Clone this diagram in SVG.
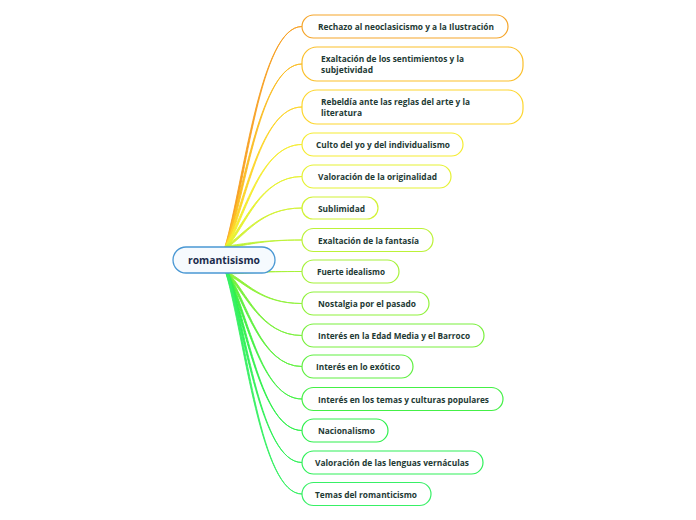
<svg xmlns="http://www.w3.org/2000/svg" width="696" height="520" viewBox="0 0 696 520">
<style>
.n{fill:#ffffff;stroke-width:1.2}
.t{font-family:"Open Sans","DejaVu Sans",sans-serif;font-weight:700;font-size:8.4px;fill:#1e3a34}
.c{stroke-width:0.9;stroke-linejoin:round}
.root{fill:#f6fafe;stroke:#4a98d4;stroke-width:1.3}
.rt{font-family:"Open Sans","DejaVu Sans",sans-serif;font-weight:700;font-size:11px;fill:#1a2b4c}
</style>
<rect width="696" height="520" fill="#ffffff"/>
<g id="connectors">
<path class="c" fill="#f7a024" stroke="#f7a024" d="M226.96,247.28 C245.96,181.13 260.2,26.5 302,26.5 C260.2,26.5 244.04,180.57 225.04,246.72 Z"/>
<path class="c" fill="#fbbd25" stroke="#fbbd25" d="M226.95,247.33 C245.95,192.43 260.2,64 302,64 C260.2,64 244.05,191.77 225.05,246.67 Z"/>
<path class="c" fill="#fdd52a" stroke="#fdd52a" d="M226.91,247.41 C245.91,205.41 260.2,107 302,107 C260.2,107 244.09,204.59 225.09,246.59 Z"/>
<path class="c" fill="#f5ec30" stroke="#f5ec30" d="M226.85,247.53 C245.85,216.78 260.2,144.5 302,144.5 C260.2,144.5 244.15,215.72 225.15,246.47 Z"/>
<path class="c" fill="#e6f232" stroke="#e6f232" d="M226.74,247.67 C245.74,226.52 260.2,176.5 302,176.5 C260.2,176.5 244.26,225.18 225.26,246.33 Z"/>
<path class="c" fill="#d2f234" stroke="#d2f234" d="M226.52,247.85 C245.52,236.15 260.2,208 302,208 C260.2,208 244.48,234.45 225.48,246.15 Z"/>
<path class="c" fill="#bcf236" stroke="#bcf236" d="M226.11,247.99 C245.11,245.89 260.2,240 302,240 C260.2,240 244.89,243.91 225.89,246.01 Z"/>
<path class="c" fill="#a6f238" stroke="#a6f238" d="M227.02,274 C245.77,273.55 260.75,271.5 302,271.5 C260.75,271.5 245.73,271.55 226.98,272 Z"/>
<path class="c" fill="#90f23a" stroke="#90f23a" d="M227.44,272.1 C246.19,281.25 260.75,303.5 302,303.5 C260.75,303.5 245.31,283.05 226.56,273.9 Z"/>
<path class="c" fill="#7af03c" stroke="#7af03c" d="M227.71,272.29 C246.46,291.04 260.75,335.5 302,335.5 C260.75,335.5 245.04,292.46 226.29,273.71 Z"/>
<path class="c" fill="#60f040" stroke="#60f040" d="M227.83,272.44 C246.58,300.49 260.75,366.5 302,366.5 C260.75,366.5 244.92,301.61 226.17,273.56 Z"/>
<path class="c" fill="#44f044" stroke="#44f044" d="M227.9,272.56 C246.65,310.36 260.75,399 302,399 C260.75,399 244.85,311.24 226.1,273.44 Z"/>
<path class="c" fill="#30f04c" stroke="#30f04c" d="M227.93,272.63 C246.68,319.88 260.75,430.5 302,430.5 C260.75,430.5 244.82,320.62 226.07,273.37 Z"/>
<path class="c" fill="#30f058" stroke="#30f058" d="M227.95,272.69 C246.7,329.54 260.75,462.5 302,462.5 C260.75,462.5 244.8,330.16 226.05,273.31 Z"/>
<path class="c" fill="#38f064" stroke="#38f064" d="M227.96,272.73 C246.71,339.03 260.75,494 302,494 C260.75,494 244.79,339.57 226.04,273.27 Z"/>
</g>
<g id="root">
<rect class="root" x="173" y="247" width="102" height="26" rx="13"/>
<text class="rt" x="188" y="264" textLength="72" lengthAdjust="spacingAndGlyphs">romantisismo</text>
</g>
<g id="n1"><rect class="n" stroke="#f5a52a" x="302" y="15" width="206" height="23" rx="11.5"/><text class="t" x="318" y="30" textLength="176" lengthAdjust="spacingAndGlyphs">Rechazo al neoclasicismo y a la Ilustración</text></g>
<g id="n2"><rect class="n" stroke="#fbbf2a" x="302" y="47" width="221" height="34" rx="15"/><text class="t" x="321" y="61.7" textLength="143" lengthAdjust="spacingAndGlyphs">Exaltación de los sentimientos y la</text><text class="t" x="321" y="72.7" textLength="52" lengthAdjust="spacingAndGlyphs">subjetividad</text></g>
<g id="n3"><rect class="n" stroke="#fdd62e" x="302" y="90" width="221" height="34" rx="15"/><text class="t" x="321" y="105.2" textLength="149" lengthAdjust="spacingAndGlyphs">Rebeldía ante las reglas del arte y la</text><text class="t" x="321" y="116.2" textLength="41" lengthAdjust="spacingAndGlyphs">literatura</text></g>
<g id="n4"><rect class="n" stroke="#f5ec32" x="302" y="133" width="161" height="23" rx="11.5"/><text class="t" x="316" y="148" textLength="134" lengthAdjust="spacingAndGlyphs">Culto del yo y del individualismo</text></g>
<g id="n5"><rect class="n" stroke="#e6f234" x="302" y="165" width="149" height="23" rx="11.5"/><text class="t" x="318" y="180" textLength="119" lengthAdjust="spacingAndGlyphs">Valoración de la originalidad</text></g>
<g id="n6"><rect class="n" stroke="#d2f236" x="302" y="197" width="76" height="22" rx="11"/><text class="t" x="318" y="211.5" textLength="47" lengthAdjust="spacingAndGlyphs">Sublimidad</text></g>
<g id="n7"><rect class="n" stroke="#bcf238" x="302" y="228.5" width="131" height="23" rx="11.5"/><text class="t" x="318" y="243.5" textLength="101" lengthAdjust="spacingAndGlyphs">Exaltación de la fantasía</text></g>
<g id="n8"><rect class="n" stroke="#a6f23a" x="302" y="260" width="97" height="23" rx="11.5"/><text class="t" x="317" y="275" textLength="68" lengthAdjust="spacingAndGlyphs">Fuerte idealismo</text></g>
<g id="n9"><rect class="n" stroke="#90f23c" x="302" y="292" width="127" height="23" rx="11.5"/><text class="t" x="318" y="307" textLength="98" lengthAdjust="spacingAndGlyphs">Nostalgia por el pasado</text></g>
<g id="n10"><rect class="n" stroke="#7af03e" x="302" y="324" width="182" height="23" rx="11.5"/><text class="t" x="318" y="339" textLength="152" lengthAdjust="spacingAndGlyphs">Interés en la Edad Media y el Barroco</text></g>
<g id="n11"><rect class="n" stroke="#60f042" x="302" y="355" width="111" height="23" rx="11.5"/><text class="t" x="316" y="370" textLength="84" lengthAdjust="spacingAndGlyphs">Interés en lo exótico</text></g>
<g id="n12"><rect class="n" stroke="#44f046" x="302" y="387.5" width="201" height="23" rx="11.5"/><text class="t" x="318" y="402.5" textLength="171" lengthAdjust="spacingAndGlyphs">Interés en los temas y culturas populares</text></g>
<g id="n13"><rect class="n" stroke="#30f04e" x="302" y="419" width="86" height="23" rx="11.5"/><text class="t" x="318" y="434" textLength="57" lengthAdjust="spacingAndGlyphs">Nacionalismo</text></g>
<g id="n14"><rect class="n" stroke="#30f05a" x="302" y="451" width="181" height="23" rx="11.5"/><text class="t" x="315" y="466" textLength="154" lengthAdjust="spacingAndGlyphs">Valoración de las lenguas vernáculas</text></g>
<g id="n15"><rect class="n" stroke="#38f066" x="302" y="482.5" width="129" height="23" rx="11.5"/><text class="t" x="315" y="497.5" textLength="102" lengthAdjust="spacingAndGlyphs">Temas del romanticismo</text></g>
</svg>
